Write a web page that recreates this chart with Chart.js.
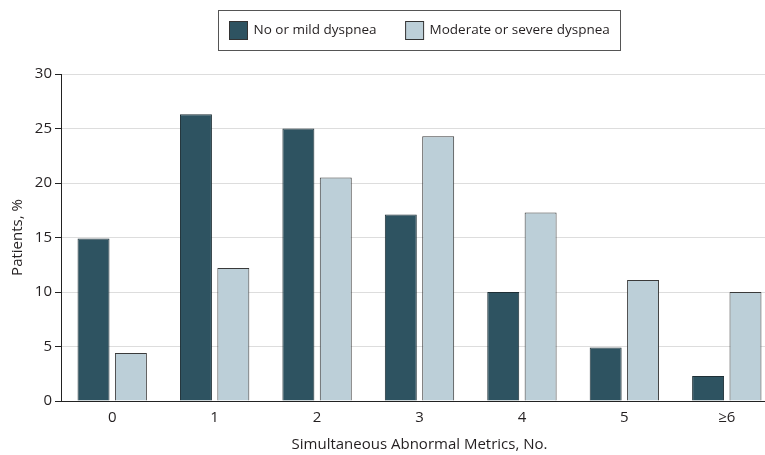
<!DOCTYPE html>
<html>
<head>
<meta charset="utf-8">
<script src="https://cdn.jsdelivr.net/npm/chart.js@4"></script>
<style>
  html, body { margin: 0; padding: 0; overflow: hidden; background: #fff; }
  #wrap { width: 765px; height: 455px; overflow: hidden; }
</style>
</head>
<body>
<div id="wrap"><canvas id="c" width="836" height="455"></canvas></div>
<script>
const categories = ["0", "1", "2", "3", "4", "5", "\u22656"];
const mildLabel = "No or mild dyspnea";
const severeLabel = "Moderate or severe dyspnea";
const mildValues = [14.9, 26.3, 25.0, 17.1, 10.0, 4.9, 2.3];
const severeValues = [4.4, 12.2, 20.5, 24.3, 17.3, 11.1, 10.0];
const yTicks = [0, 5, 10, 15, 20, 25, 30];
const xTitle = "Simultaneous Abnormal Metrics, No.";
const yTitle = "Patients, %";

const FONT = '"Open Sans", "Noto Sans", sans-serif';
const TEXT = '#231f20';

const boxedLegend = {
  id: 'boxedLegend',
  afterDraw(chart) {
    const ctx = chart.ctx;
    const ds = chart.data.datasets;
    ctx.save();
    ctx.font = '13.5px ' + FONT;
    const sw = 18, gap = 6, between = 29, pad = 11;
    const widths = ds.map(d => ctx.measureText(d.label).width);
    let total = pad * 2;
    widths.forEach((w, i) => { total += sw + gap + w + (i ? between : 0); });
    const cx = (chart.chartArea.left + chart.chartArea.right) / 2;
    let x = Math.round(cx - total / 2) + 0.5;
    const top = 10.5, h = 40;
    ctx.strokeStyle = '#555';
    ctx.lineWidth = 1;
    ctx.strokeRect(x, top, Math.round(total), h);
    let cur = x + pad;
    const midY = top + h / 2;
    ds.forEach((d, i) => {
      if (i) cur += between;
      ctx.fillStyle = d.backgroundColor;
      ctx.fillRect(cur, midY - sw / 2, sw, sw);
      ctx.strokeStyle = '#333';
      ctx.strokeRect(cur, midY - sw / 2, sw, sw);
      cur += sw + gap;
      ctx.fillStyle = TEXT;
      ctx.textBaseline = 'middle';
      ctx.textAlign = 'left';
      ctx.fillText(d.label, cur, midY);
      cur += widths[i];
    });
    ctx.restore();
  }
};

new Chart(document.getElementById('c'), {
  type: 'bar',
  data: {
    labels: categories,
    datasets: [
      { label: mildLabel, data: mildValues, backgroundColor: '#2e5361', borderColor: '#1e2f36', borderWidth: 1 },
      { label: severeLabel, data: severeValues, backgroundColor: '#bccfd8', borderColor: '#3a3a3a', borderWidth: 1 }
    ]
  },
  options: {
    responsive: false,
    devicePixelRatio: 1,
    animation: false,
    layout: { padding: { top: 74, right: 58, left: 0, bottom: 0 } },
    datasets: { bar: { categoryPercentage: 0.73, barPercentage: 0.855 } },
    plugins: { legend: { display: false }, tooltip: { enabled: false } },
    scales: {
      x: {
        grid: { display: false, drawTicks: false },
        border: { display: true, color: '#222', width: 1 },
        ticks: { color: TEXT, font: { family: FONT, size: 15 }, padding: 8, maxRotation: 0 },
        title: { display: true, text: xTitle, color: TEXT, font: { family: FONT, size: 15 }, padding: { top: 0, bottom: 1 } },
        afterFit(s) { s.height = 54; }
      },
      y: {
        min: 0, max: 30,
        afterBuildTicks(s) { s.ticks = yTicks.map(v => ({ value: v })); },
        grid: { color: '#dddddd', tickColor: '#222', tickLength: 6, lineWidth: 1 },
        border: { display: true, color: '#222', width: 1 },
        ticks: { color: TEXT, font: { family: FONT, size: 15 }, padding: 3 },
        title: { display: true, text: yTitle, color: TEXT, font: { family: FONT, size: 15 }, padding: { top: 9, bottom: 0 } },
        afterFit(s) { s.width = 61; }
      }
    }
  },
  plugins: [boxedLegend]
});
</script>
</body>
</html>
